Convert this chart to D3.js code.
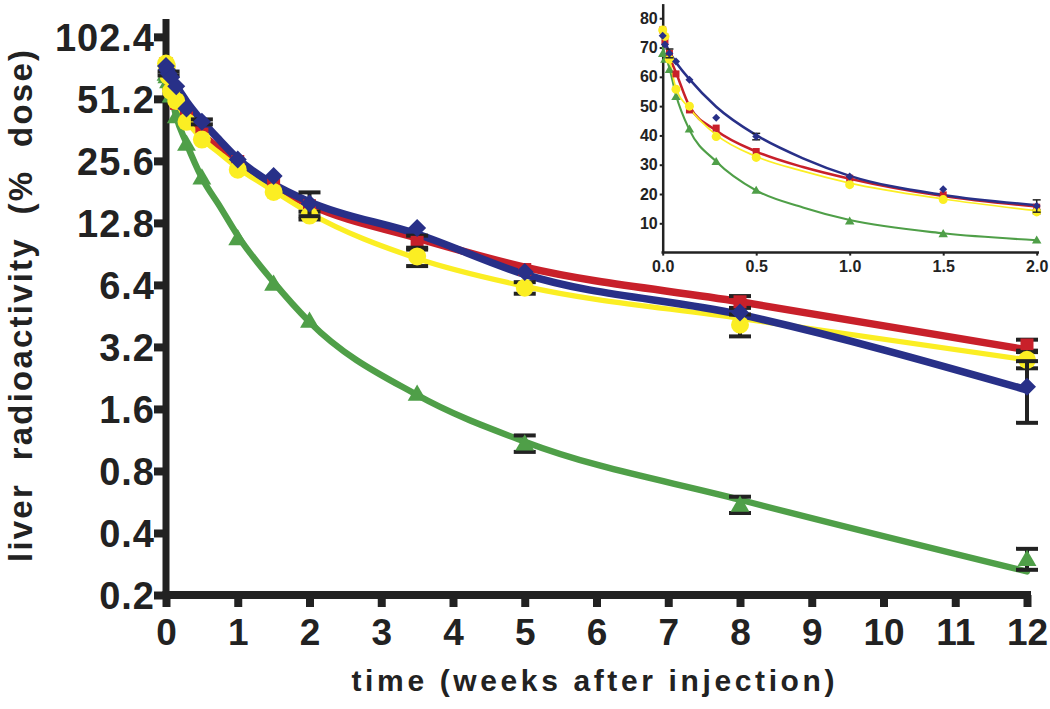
<!DOCTYPE html>
<html>
<head>
<meta charset="utf-8">
<script src="https://cdn.jsdelivr.net/npm/d3@7"></script>
<style>
  body { margin: 0; background: #fff; }
  text { font-family: "Liberation Sans", Arial, sans-serif; font-weight: bold; fill: #222; }
</style>
</head>
<body>
<svg id="chart" width="1050" height="709"></svg>
<script>
// sampling times (weeks after injection)
var weeks = [0, 0.012, 0.036, 0.071, 0.143, 0.286, 0.5, 1, 1.5, 2, 3.5, 5, 8, 12];

// measured liver radioactivity (% dose)
var blueVals   = [74, 71, 68, 65.2, 59, 46, 39.6, 26, 21.6, 15.9, 12.1, 7.4, 4.7, 2.05];
var redVals    = [76, 72, 68, 61, 48.7, 42.5, 34.5, 25.4, 19.7, 15.5, 10.3, 7.6, 5.3, 3.27];
var yellowVals = [76, 73.8, 66, 55.8, 50, 39.6, 32.5, 23.2, 18.1, 13.9, 8.8, 6.2, 4.1, 2.77];
var greenVals  = [68, 66, 62.5, 53.3, 42.2, 31.1, 21.3, 10.8, 6.5, 4.3, 1.9, 1.09, 0.55, 0.3];

// error bars (0 = none drawn)
var blueErr   = [0, 0, 1.5, 0, 0, 0, 1.1, 0, 0, 2.1, 0, 0, 0, 0.68];
var redErr    = [0, 0, 0, 0, 0, 0, 0, 0, 0, 0, 0.8, 0, 0.35, 0.2];
var yellowErr = [0, 0, 0, 0, 0, 0, 0, 0, 0, 0.6, 0.9, 0.4, 0.5, 0.25];
var greenErr  = [0, 0, 0, 0, 0, 0, 0, 0, 0, 0, 0, 0.1, 0.05, 0.035];

// fitted curves
var fitWeeks  = [0, 0.036, 0.071, 0.143, 0.286, 0.5, 0.75, 1, 1.5, 2, 3.5, 5, 8, 12];
var blueFit   = [74, 68.5, 65, 59.2, 49.8, 40.1, 32.2, 26.2, 19.7, 16.2, 11.3, 7.2, 4.6, 1.98];
var redFit    = [75, 67, 61.5, 50, 41.7, 34.5, 29.2, 25.2, 19.3, 15.7, 10.8, 7.8, 5.3, 3.1];
var yellowFit = [75.5, 66, 56, 49.3, 40.2, 32.8, 27.8, 23.7, 18.3, 14.3, 8.6, 6.3, 4.4, 2.77];
var greenFit  = [70, 63, 53.8, 41.9, 31.1, 21.2, 15.4, 11.1, 6.6, 4.23, 1.87, 1.11, 0.58, 0.26];

var yTicks = [0.2, 0.4, 0.8, 1.6, 3.2, 6.4, 12.8, 25.6, 51.2, 102.4];
var xTicks = [0, 1, 2, 3, 4, 5, 6, 7, 8, 9, 10, 11, 12];
var insetYTicks = [10, 20, 30, 40, 50, 60, 70, 80];
var insetXTicks = [0, 0.5, 1, 1.5, 2];

var series = [
  { name: "green",  color: "#4f9f48", shape: "triangle", vals: greenVals,  err: greenErr,  fit: greenFit,  lw: 0.85 },
  { name: "red",    color: "#c8202a", shape: "square",   vals: redVals,    err: redErr,    fit: redFit,    lw: 1 },
  { name: "yellow", color: "#fbee23", shape: "circle",   vals: yellowVals, err: yellowErr, fit: yellowFit, lw: 0.7 },
  { name: "blue",   color: "#283088", shape: "diamond",  vals: blueVals,   err: blueErr,   fit: blueFit,   lw: 1 }
];

var ink = "#222";
var svg = d3.select("#chart");

function shapePath(shape, r) {
  if (shape === "diamond") return "M0," + (-r) + "L" + r + ",0L0," + r + "L" + (-r) + ",0Z";
  if (shape === "square") return "M" + (-r) + "," + (-r) + "h" + (2 * r) + "v" + (2 * r) + "h" + (-2 * r) + "Z";
  return "M0," + (-r) + "L" + (r * 1.05) + "," + (r * 0.8) + "L" + (-r * 1.05) + "," + (r * 0.8) + "Z";
}

function drawPlot(g, x, y, opt) {
  var pts = function(s) {
    return weeks.map(function(w, i) { return { w: w, v: s.vals[i], e: s.err[i] }; })
      .filter(function(d) { return d.w <= opt.maxWeek; });
  };
  var fitPts = function(s) {
    return fitWeeks.map(function(w, i) { return { w: w, v: s.fit[i] }; })
      .filter(function(d) { return d.w <= opt.maxWeek; });
  };
  var line = d3.line()
    .x(function(d) { return x(d.w); })
    .y(function(d) { return y(d.v); })
    .curve(d3.curveMonotoneX);

  // curves
  series.forEach(function(s) {
    g.append("path")
      .datum(fitPts(s))
      .attr("d", line)
      .attr("fill", "none")
      .attr("stroke", s.color)
      .attr("stroke-width", opt.lineWidth * s.lw)
      .attr("stroke-linecap", "round");
  });

  // error bars + symbols, series by series
  series.forEach(function(s) {
    var data = pts(s);
    var eb = g.append("g").selectAll("g")
      .data(data.filter(function(d) { return d.e > 0; }))
      .enter().append("g")
      .attr("stroke", ink)
      .attr("stroke-width", opt.errWidth);
    eb.append("line")
      .attr("x1", function(d) { return x(d.w); })
      .attr("x2", function(d) { return x(d.w); })
      .attr("y1", function(d) { return y(d.v + d.e); })
      .attr("y2", function(d) { return y(d.v - d.e); });
    eb.append("line")
      .attr("x1", function(d) { return x(d.w) - opt.cap; })
      .attr("x2", function(d) { return x(d.w) + opt.cap; })
      .attr("y1", function(d) { return y(d.v + d.e); })
      .attr("y2", function(d) { return y(d.v + d.e); });
    eb.append("line")
      .attr("x1", function(d) { return x(d.w) - opt.cap; })
      .attr("x2", function(d) { return x(d.w) + opt.cap; })
      .attr("y1", function(d) { return y(d.v - d.e); })
      .attr("y2", function(d) { return y(d.v - d.e); });

    var r = opt.sizes[s.shape];
    if (s.shape === "circle") {
      g.append("g").selectAll("circle")
        .data(data).enter().append("circle")
        .attr("cx", function(d) { return x(d.w); })
        .attr("cy", function(d) { return y(d.v); })
        .attr("r", r)
        .attr("fill", s.color);
    } else {
      g.append("g").selectAll("path")
        .data(data).enter().append("path")
        .attr("transform", function(d) { return "translate(" + x(d.w) + "," + y(d.v) + ")"; })
        .attr("d", shapePath(s.shape, r))
        .attr("fill", s.color);
    }
  });
}

// ---------- main chart ----------
var x = d3.scaleLinear().domain([0, 12]).range([166, 1027]);
var y = d3.scaleLog().base(2).domain([0.2, 125]).range([595, 19]);

var yAxis = svg.append("g")
  .attr("transform", "translate(166,0)")
  .call(d3.axisLeft(y).tickValues(yTicks).tickFormat(d3.format(".1f")).tickSize(12).tickSizeOuter(0));
yAxis.select(".domain").attr("stroke", ink).attr("stroke-width", 7).attr("d", "M0,19V599");
yAxis.selectAll(".tick line").attr("stroke", ink).attr("stroke-width", 8);
yAxis.selectAll(".tick text")
  .attr("x", -11).attr("dy", "0.36em")
  .style("font-size", "38px").style("letter-spacing", "1px").attr("fill", ink);

var xAxis = svg.append("g")
  .attr("transform", "translate(0,595)")
  .call(d3.axisBottom(x).tickValues(xTicks).tickFormat(d3.format("d")).tickSize(12).tickSizeOuter(0));
xAxis.select(".domain").attr("stroke", ink).attr("stroke-width", 8).attr("d", "M162.5,0H1031");
xAxis.selectAll(".tick line").attr("stroke", ink).attr("stroke-width", 8);
xAxis.selectAll(".tick text")
  .attr("y", 50).attr("dy", 0)
  .style("font-size", "37px").attr("fill", ink);

svg.append("text")
  .attr("x", 593).attr("y", 691)
  .attr("text-anchor", "middle")
  .attr("textLength", 483).attr("lengthAdjust", "spacing")
  .style("font-size", "30px")
  .text("time (weeks after injection)");

svg.append("text")
  .attr("transform", "translate(32,306) rotate(-90)")
  .attr("text-anchor", "middle")
  .attr("textLength", 512).attr("lengthAdjust", "spacing")
  .style("font-size", "33px")
  .style("white-space", "pre")
  .text("liver  radioactivity  (%  dose)");

drawPlot(svg.append("g"), x, y, {
  maxWeek: 12, lineWidth: 7.5, errWidth: 4, cap: 11,
  sizes: { diamond: 9, square: 6.5, circle: 9, triangle: 9 }
});

// ---------- inset ----------
var ix = d3.scaleLinear().domain([0, 2]).range([662.7, 1036.7]);
var iy = d3.scaleLinear().domain([0, 85]).range([252.6, 3.6]);

var iyAxis = svg.append("g")
  .attr("transform", "translate(662.7,0)")
  .call(d3.axisLeft(iy).tickValues(insetYTicks).tickSize(3).tickSizeOuter(0));
iyAxis.select(".domain").attr("stroke", ink).attr("stroke-width", 2.5);
iyAxis.selectAll(".tick line").attr("stroke", ink).attr("stroke-width", 2);
iyAxis.selectAll(".tick text").attr("x", -5).style("font-size", "16px").attr("fill", ink);

var ixAxis = svg.append("g")
  .attr("transform", "translate(0,252.6)")
  .call(d3.axisBottom(ix).tickValues(insetXTicks).tickFormat(d3.format(".1f")).tickSize(3).tickSizeOuter(0));
ixAxis.select(".domain").attr("stroke", ink).attr("stroke-width", 2.5).attr("d", "M661.5,0H1039");
ixAxis.selectAll(".tick line").attr("stroke", ink).attr("stroke-width", 2);
ixAxis.selectAll(".tick text").attr("y", 8).style("font-size", "16px").attr("fill", ink);

drawPlot(svg.append("g"), ix, iy, {
  maxWeek: 2, lineWidth: 2.5, errWidth: 1.5, cap: 4,
  sizes: { diamond: 4, square: 3.5, circle: 4.5, triangle: 4.5 }
});
</script>
</body>
</html>
